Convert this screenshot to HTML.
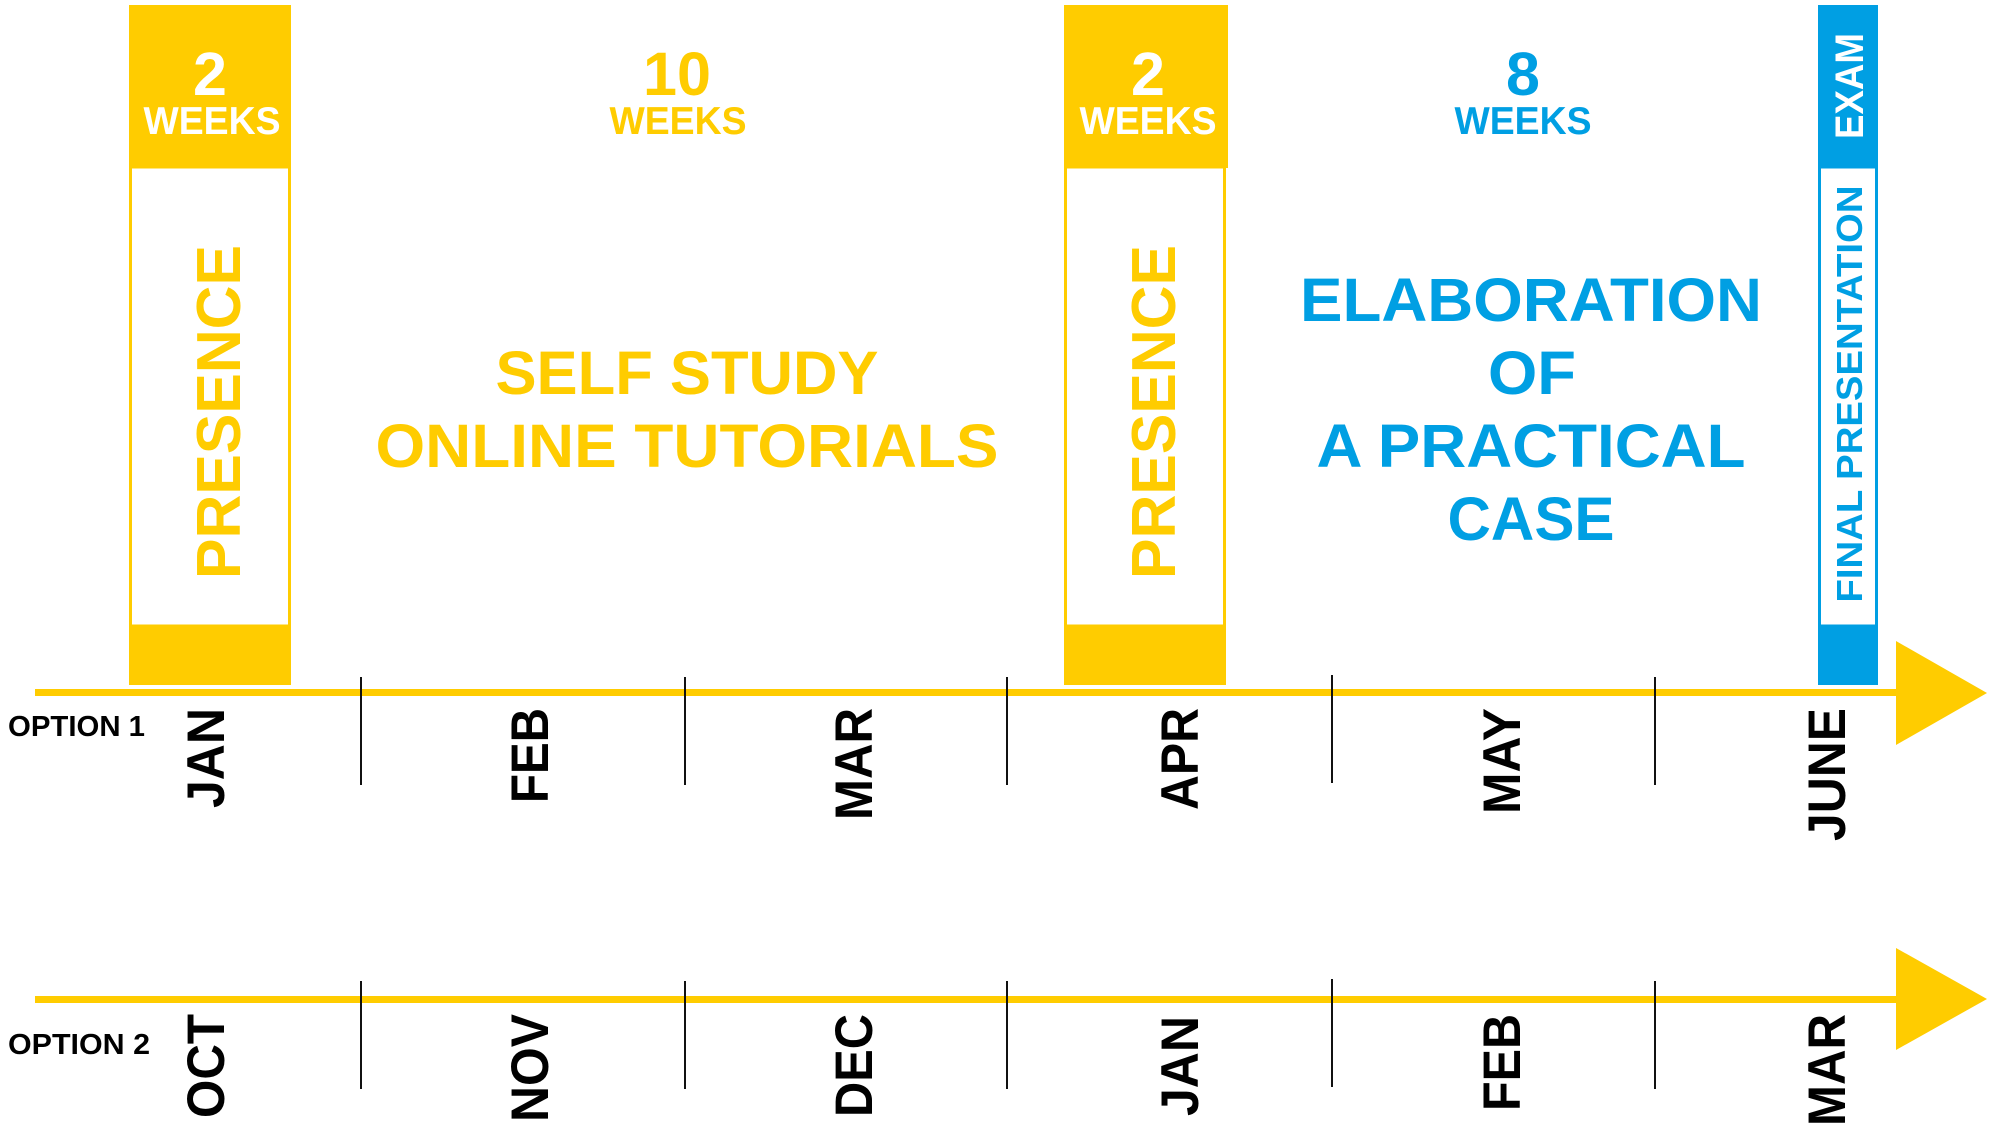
<!DOCTYPE html>
<html><head><meta charset="utf-8"><style>
html,body{margin:0;padding:0;background:#fff;}
svg{display:block;font-family:"Liberation Sans",Arial,sans-serif;font-weight:bold;}
</style></head><body>
<svg width="2000" height="1138" viewBox="0 0 2000 1138" xmlns="http://www.w3.org/2000/svg">
<g fill="#ffcc00">
<rect x="129" y="5" width="162" height="163"/>
<rect x="129" y="626" width="162" height="59"/>
<rect x="1064" y="5" width="164" height="163"/>
<rect x="1064" y="626" width="162" height="59"/>
<rect x="35" y="689" width="1865" height="7"/>
<polygon points="1896,641 1987,693 1896,745"/>
<rect x="35" y="996" width="1865" height="7"/>
<polygon points="1896,948 1987,999 1896,1050"/>
</g>
<g fill="none" stroke="#ffcc00" stroke-width="3">
<rect x="130.5" y="167" width="159" height="459"/>
<rect x="1065.5" y="167" width="159" height="459"/>
</g>
<rect x="1818" y="5" width="60" height="163" fill="#009fe3"/>
<rect x="1818" y="626" width="60" height="59" fill="#009fe3"/>
<rect x="1819.5" y="167" width="57" height="459" fill="none" stroke="#009fe3" stroke-width="3"/>
<g stroke="#111" stroke-width="2">
<line x1="361" y1="677" x2="361" y2="785"/><line x1="685" y1="677" x2="685" y2="785"/>
<line x1="1007" y1="677" x2="1007" y2="785"/><line x1="1332" y1="675" x2="1332" y2="783"/>
<line x1="1655" y1="677" x2="1655" y2="785"/>
<line x1="361" y1="981" x2="361" y2="1089"/><line x1="685" y1="981" x2="685" y2="1089"/>
<line x1="1007" y1="981" x2="1007" y2="1089"/><line x1="1332" y1="979" x2="1332" y2="1087"/>
<line x1="1655" y1="981" x2="1655" y2="1089"/>
</g>
<g text-anchor="middle" fill="#fff">
<text x="210" y="95" font-size="61">2</text>
<text x="212" y="134" font-size="39" textLength="137" lengthAdjust="spacingAndGlyphs">WEEKS</text>
<text x="1148" y="95" font-size="61">2</text>
<text x="1148" y="134" font-size="39" textLength="137" lengthAdjust="spacingAndGlyphs">WEEKS</text>
</g>
<g text-anchor="middle" fill="#ffcc00">
<text x="677" y="95" font-size="61" textLength="68" lengthAdjust="spacingAndGlyphs">10</text>
<text x="678" y="134" font-size="39" textLength="137" lengthAdjust="spacingAndGlyphs">WEEKS</text>
<text x="687" y="394" font-size="61" textLength="383" lengthAdjust="spacingAndGlyphs">SELF STUDY</text>
<text x="687" y="467" font-size="61" textLength="623" lengthAdjust="spacingAndGlyphs">ONLINE TUTORIALS</text>
</g>
<g text-anchor="middle" fill="#009fe3">
<text x="1523" y="95" font-size="61">8</text>
<text x="1523" y="134" font-size="39" textLength="137" lengthAdjust="spacingAndGlyphs">WEEKS</text>
<text x="1531" y="321" font-size="61" textLength="462" lengthAdjust="spacingAndGlyphs">ELABORATION</text>
<text x="1532" y="394" font-size="61" textLength="88" lengthAdjust="spacingAndGlyphs">OF</text>
<text x="1531" y="467" font-size="61" textLength="429" lengthAdjust="spacingAndGlyphs">A PRACTICAL</text>
<text x="1531" y="540" font-size="61" textLength="167" lengthAdjust="spacingAndGlyphs">CASE</text>
</g>
<g text-anchor="middle">
<text transform="translate(240,412) rotate(-90)" font-size="62" fill="#ffcc00" textLength="334" lengthAdjust="spacingAndGlyphs">PRESENCE</text>
<text transform="translate(1175,412) rotate(-90)" font-size="62" fill="#ffcc00" textLength="334" lengthAdjust="spacingAndGlyphs">PRESENCE</text>
<text transform="translate(1862,394) rotate(-90)" font-size="36" fill="#009fe3" textLength="417" lengthAdjust="spacingAndGlyphs">FINAL PRESENTATION</text>
<text transform="translate(1863,86) rotate(-90)" font-size="40" fill="#fff" textLength="106" lengthAdjust="spacingAndGlyphs">EXAM</text>
</g>
<g fill="#000" text-anchor="end" font-size="53">
<text transform="translate(224,708) rotate(-90)" textLength="100" lengthAdjust="spacingAndGlyphs">JAN</text>
<text transform="translate(548,708) rotate(-90)" textLength="95" lengthAdjust="spacingAndGlyphs">FEB</text>
<text transform="translate(872,708) rotate(-90)" textLength="112" lengthAdjust="spacingAndGlyphs">MAR</text>
<text transform="translate(1198,708) rotate(-90)" textLength="102" lengthAdjust="spacingAndGlyphs">APR</text>
<text transform="translate(1520,708) rotate(-90)" textLength="106" lengthAdjust="spacingAndGlyphs">MAY</text>
<text transform="translate(1845,708) rotate(-90)" textLength="133" lengthAdjust="spacingAndGlyphs">JUNE</text>
<text transform="translate(224,1014) rotate(-90)" textLength="104" lengthAdjust="spacingAndGlyphs">OCT</text>
<text transform="translate(548,1014) rotate(-90)" textLength="108" lengthAdjust="spacingAndGlyphs">NOV</text>
<text transform="translate(872,1014) rotate(-90)" textLength="103" lengthAdjust="spacingAndGlyphs">DEC</text>
<text transform="translate(1198,1016) rotate(-90)" textLength="100" lengthAdjust="spacingAndGlyphs">JAN</text>
<text transform="translate(1520,1014) rotate(-90)" textLength="97" lengthAdjust="spacingAndGlyphs">FEB</text>
<text transform="translate(1845,1014) rotate(-90)" textLength="112" lengthAdjust="spacingAndGlyphs">MAR</text>
</g>
<g fill="#000" font-size="29">
<text x="8" y="736" textLength="137" lengthAdjust="spacingAndGlyphs">OPTION 1</text>
<text x="8" y="1054" textLength="142" lengthAdjust="spacingAndGlyphs">OPTION 2</text>
</g>
</svg>
</body></html>
